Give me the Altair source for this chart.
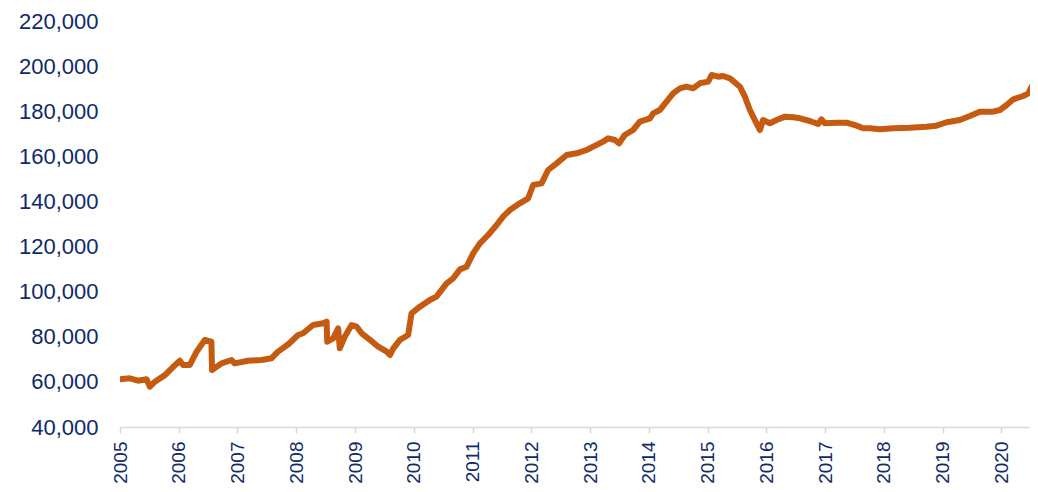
import altair as alt
import pandas as pd

dates = [
    "2005-01-01", "2005-03-03", "2005-04-23", "2005-06-15", "2005-07-06", "2005-08-06",
    "2005-10-07", "2005-11-28", "2006-01-08", "2006-01-28", "2006-03-11", "2006-04-22",
    "2006-06-12", "2006-07-23", "2006-07-27", "2006-09-24", "2006-11-25", "2006-12-15",
    "2007-03-08", "2007-05-31", "2007-07-31", "2007-09-10", "2007-11-15", "2008-01-13",
    "2008-02-13", "2008-04-15", "2008-06-17", "2008-07-08", "2008-07-12", "2008-08-18",
    "2008-09-18", "2008-09-28", "2008-10-29", "2008-12-10", "2009-01-11", "2009-02-11",
    "2009-04-04", "2009-05-25", "2009-07-17", "2009-08-06", "2009-08-27", "2009-10-07",
    "2009-11-27", "2009-12-18", "2010-02-08", "2010-04-11", "2010-05-22", "2010-07-24",
    "2010-09-03", "2010-10-15", "2010-11-25", "2011-01-05", "2011-02-16", "2011-04-08",
    "2011-05-31", "2011-07-10", "2011-08-21", "2011-10-22", "2011-12-13", "2012-01-13",
    "2012-03-05", "2012-04-15", "2012-06-07", "2012-08-08", "2012-10-09", "2012-12-10",
    "2013-01-20", "2013-03-23", "2013-04-23", "2013-06-04", "2013-06-30", "2013-08-04",
    "2013-09-25", "2013-11-06", "2014-01-08", "2014-01-28", "2014-03-10", "2014-04-21",
    "2014-06-01", "2014-07-13", "2014-08-23", "2014-10-03", "2014-11-14", "2015-01-05",
    "2015-01-26", "2015-03-08", "2015-04-08", "2015-05-20", "2015-07-21", "2015-08-21",
    "2015-09-21", "2015-11-01", "2015-11-22", "2015-12-12", "2016-01-23", "2016-03-05",
    "2016-04-26", "2016-06-17", "2016-07-28", "2016-09-28", "2016-11-18", "2016-12-09",
    "2016-12-30", "2017-03-13", "2017-05-14", "2017-07-15", "2017-08-25", "2017-10-06",
    "2017-12-07", "2018-02-28", "2018-06-11", "2018-09-23", "2018-11-24", "2019-01-26",
    "2019-04-18", "2019-06-19", "2019-08-20", "2019-11-11", "2019-12-23", "2020-02-03",
    "2020-03-15", "2020-05-16", "2020-06-16", "2020-07-07", "2020-08-08", "2020-08-28",
]
values = [
    61150, 61600, 60530, 61150, 57870, 60080,
    63000, 66700, 69400, 67500, 67500, 73400,
    78600, 77800, 65270, 68200, 69700, 68200,
    69400, 69700, 70450, 73400, 76800, 80800,
    81550, 85200, 85970, 86700, 77800, 79330,
    83750, 74900, 80000, 85200, 84470, 81550,
    78600, 75600, 73400, 71930, 74900, 78600,
    80800, 90400, 93330, 96300, 97780, 103700,
    105930, 109900, 111060, 117000, 121440, 125130,
    129560, 133250, 136200, 139170, 141390, 147290,
    148030, 153940, 156890, 160590, 161330, 162810,
    164290, 166510, 167990, 167240, 165770, 169460,
    171670, 175360, 176850, 179070, 180540, 184220,
    187940, 190160, 190880, 190160, 192380, 193110,
    196060, 195310, 195620, 194600, 190880, 186440,
    180540, 174640, 171670, 176110, 174640, 176110,
    177590, 177300, 176850, 175660, 174330, 176400,
    174640, 174930, 174930, 173600, 172430, 172430,
    171990, 172430, 172700, 173150, 173600, 175100,
    176110, 177880, 179800, 179800, 180540, 182760,
    185270, 186750, 187940, 190880, 192650, 193110,
]
year_ticks = list(range(2005, 2021))
y_ticks = list(range(40000, 220001, 20000))

df = pd.DataFrame({"date": dates, "value": values})

label_color = "#0E2A6B"
font = "Liberation Sans"

chart = (
    alt.Chart(df)
    .mark_line(color="#C55A11", strokeWidth=6, strokeJoin="round", strokeCap="round", clip=True)
    .encode(
        x=alt.X(
            "date:T",
            title=None,
            scale=alt.Scale(
                type="utc",
                domain=[
                    alt.DateTime(year=2005, month=1, date=1, utc=True),
                    alt.DateTime(year=2020, month=6, date=27, utc=True),
                ],
            ),
            axis=alt.Axis(
                values=[alt.DateTime(year=y, month=1, date=1, utc=True) for y in year_ticks],
                format="%Y",
                labelAngle=-90,
                labelAlign="right",
                labelBaseline="middle",
                labelFont=font,
                labelFontSize=19,
                labelColor=label_color,
                labelPadding=8,
                tickSize=6,
                tickColor="#D9D9D9",
                tickWidth=1.5,
                domainColor="#D9D9D9",
                domainWidth=1.5,
                grid=False,
                labelOverlap=False,
                labelFlush=False,
            ),
        ),
        y=alt.Y(
            "value:Q",
            title=None,
            scale=alt.Scale(domain=[40000, 220000], nice=False, zero=False),
            axis=alt.Axis(
                values=y_ticks,
                format=",.0f",
                labelFont=font,
                labelFontSize=22,
                labelColor=label_color,
                labelPadding=22,
                ticks=False,
                domain=False,
                grid=False,
            ),
        ),
    )
    .properties(
        width=910,
        height=406,
        autosize=alt.AutoSizeParams(type="none"),
        padding={"left": 112, "top": 13, "right": 0, "bottom": 57},
    )
    .configure_view(stroke=None)
)

chart.save("out.html", embed_options={"renderer": "svg", "actions": False})
